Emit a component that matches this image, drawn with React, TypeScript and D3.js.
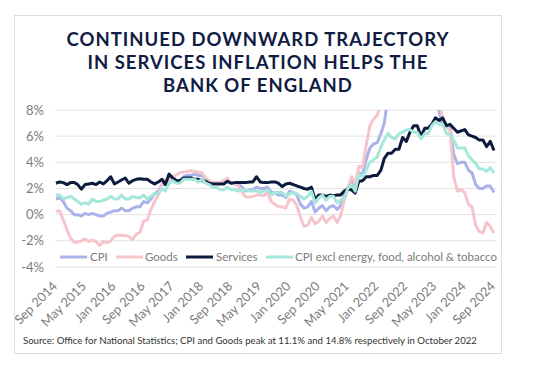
import React from "react";
import * as d3 from "d3";

// ---- Data (annual % change, monthly Sep 2014 .. Sep 2024) ----
const startMonth = "Sep 2014";
const tickLabels = [
  "Sep 2014", "May 2015", "Jan 2016", "Sep 2016", "May 2017", "Jan 2018", "Sep 2018", "May 2019",
  "Jan 2020", "Sep 2020", "May 2021", "Jan 2022", "Sep 2022", "May 2023", "Jan 2024", "Sep 2024",
];
const yTicks = [-4, -2, 0, 2, 4, 6, 8];

const cpi = [
  1.2, 1.3, 1.0, 0.5,
  0.3, 0.0, 0.0, -0.1, 0.1, 0.0, 0.1, 0.0, -0.1, -0.1, 0.1, 0.2,
  0.3, 0.3, 0.5, 0.3, 0.3, 0.5, 0.6, 0.6, 1.0, 0.9, 1.2, 1.6,
  1.8, 2.3, 2.3, 2.7, 2.9, 2.6, 2.6, 2.9, 3.0, 3.0, 3.1, 3.0,
  3.0, 2.7, 2.5, 2.4, 2.4, 2.4, 2.5, 2.7, 2.4, 2.4, 2.3, 2.1,
  1.8, 1.9, 1.9, 2.1, 2.0, 2.0, 2.1, 1.7, 1.7, 1.5, 1.5, 1.3,
  1.8, 1.7, 1.5, 0.8, 0.5, 0.6, 1.0, 0.2, 0.5, 0.7, 0.3, 0.6,
  0.7, 0.4, 0.7, 1.5, 2.1, 2.5, 2.0, 3.2, 3.1, 4.2, 5.1, 5.4,
  5.5, 6.2, 7.0, 9.0, 9.1, 9.4, 10.1, 9.9, 10.1, 11.1, 10.7, 10.5,
  10.1, 10.4, 10.1, 8.7, 8.7, 7.9, 6.8, 6.7, 6.7, 4.6, 3.9, 4.0,
  4.0, 3.4, 3.2, 2.3, 2.0, 2.0, 2.2, 2.2, 1.7,
];

const goods = [
  0.25, 0.3, -0.4, -1.15,
  -1.8, -2.1, -2.1, -2.0, -1.85, -2.05, -1.95, -2.05, -2.35, -2.05, -2.15, -2.0,
  -1.65, -1.55, -1.6, -1.6, -1.65, -1.9, -1.5, -1.35, -0.5, -0.4, 0.4, 1.0,
  1.5, 2.3, 2.65, 2.6, 2.85, 3.05, 3.2, 3.25, 3.3, 3.35, 3.3, 3.25,
  3.2, 2.8, 2.6, 2.45, 2.45, 2.45, 2.6, 2.8, 2.4, 2.35, 2.2, 1.7,
  1.35, 1.35, 1.4, 1.5, 1.5, 1.45, 1.7, 1.0, 0.8, 0.6, 0.6, 0.5,
  1.2, 1.1, 0.7, -0.2, -0.9, -0.8, -0.2, -0.7, -0.5, -0.1, -0.6, -0.3,
  -0.1, -0.6, -0.1, 1.1, 2.0, 2.9, 2.4, 3.7, 3.6, 5.3, 6.8, 7.3,
  7.6, 8.5, 9.7, 12.0, 12.3, 13.0, 14.0, 13.5, 13.8, 14.8, 14.2, 14.0,
  13.5, 13.6, 13.2, 10.8, 10.0, 8.9, 7.3, 6.8, 6.4, 2.9, 1.8, 1.9,
  1.7, 0.8, 0.6, -0.8, -1.3, -1.4, -0.6, -0.9, -1.4,
];

const services = [
  2.4, 2.5, 2.45, 2.3,
  2.45, 2.45, 2.3, 1.95, 2.3, 2.35, 2.4, 2.3, 2.5, 2.35, 2.6, 2.9,
  2.35, 2.5, 2.65, 2.8, 2.4, 2.6, 2.7, 2.75, 2.7, 2.7, 2.5, 2.35,
  2.5, 2.7, 2.3, 3.1, 2.8, 2.6, 2.6, 2.8, 2.8, 2.8, 2.7, 2.7,
  2.6, 2.55, 2.4, 2.35, 2.35, 2.35, 2.35, 2.55, 2.4, 2.45, 2.45, 2.45,
  2.45, 2.5, 2.5, 2.9, 2.5, 2.45, 2.45, 2.5, 2.5, 2.4, 2.15, 2.35,
  2.4, 2.3, 2.2, 2.1, 2.0, 1.95, 2.1, 1.15, 1.5, 1.5, 1.4, 1.5,
  1.45, 1.5, 1.5, 1.8, 1.95, 1.9, 1.65, 2.55, 2.6, 2.9, 2.9, 3.0,
  3.0, 3.4, 4.3, 4.7, 4.7, 5.0, 5.0, 5.9, 5.6, 6.3, 6.8, 6.8,
  6.0, 6.6, 6.6, 6.9, 7.4, 7.2, 7.4, 6.8, 6.9, 6.6, 6.3, 6.4,
  6.5, 6.1, 6.0, 5.9, 5.7, 5.7, 5.2, 5.6, 4.9,
];

const cpiCore = [
  1.5, 1.5, 1.2, 1.3,
  1.4, 1.2, 1.0, 0.8, 0.9, 0.8, 1.2, 1.0, 1.0, 1.1, 1.2, 1.4,
  1.2, 1.2, 1.5, 1.2, 1.2, 1.4, 1.3, 1.3, 1.5, 1.2, 1.4, 1.6,
  1.6, 2.0, 1.8, 2.4, 2.6, 2.4, 2.4, 2.7, 2.7, 2.7, 2.7, 2.5,
  2.7, 2.4, 2.3, 2.1, 2.1, 1.9, 1.9, 2.1, 1.9, 1.9, 1.8, 1.9,
  1.9, 1.8, 1.8, 1.8, 1.7, 1.8, 1.9, 1.5, 1.7, 1.7, 1.7, 1.4,
  1.6, 1.7, 1.6, 1.4, 1.2, 1.4, 1.8, 0.9, 1.3, 1.5, 1.1, 1.4,
  1.4, 0.9, 1.1, 1.3, 2.0, 2.3, 1.8, 3.1, 2.9, 3.4, 4.0, 4.2,
  4.4, 5.2, 5.7, 6.2, 5.9, 5.8, 6.2, 6.3, 6.5, 6.5, 6.3, 6.3,
  5.8, 6.2, 6.2, 6.8, 7.1, 6.9, 6.9, 6.2, 6.1, 5.7, 5.1, 5.1,
  5.1, 4.5, 4.2, 3.9, 3.5, 3.5, 3.3, 3.6, 3.2,
];

const seriesNames = ["CPI", "Goods", "Services", "CPI excl energy, food, alcohol & tobacco"];
const seriesColors = ["#aab2ea", "#f6c5cb", "#0c1a3e", "#a6e7db"];
const titleLines = [
  "CONTINUED DOWNWARD TRAJECTORY",
  "IN SERVICES INFLATION HELPS THE",
  "BANK OF ENGLAND",
];
const sourceText =
  "Source: Office for National Statistics; CPI and Goods peak at 11.1% and 14.8% respectively in October 2022";

export default function App() {
  const W = 534;
  const H = 376;
  const seriesData = [cpi, goods, services, cpiCore];
  const parse = d3.timeParse("%b %Y");
  const start = parse(startMonth) as Date;
  const dates = cpi.map((_, i) => d3.timeMonth.offset(start, i));
  const end = dates[dates.length - 1];

  const x = d3.scaleTime().domain([start, end]).range([56, 494]);
  const y = d3.scaleLinear().domain([-4, 8]).range([267, 110]);
  const gridX0 = 55;
  const gridX1 = 497;

  const line = (vals: number[]) =>
    d3
      .line<number>()
      .x((_, i) => x(dates[i]))
      .y((v) => y(v))
      .curve(d3.curveLinear)(vals) as string;

  const tickDates = tickLabels.map((t) => parse(t) as Date);
  const font = "Lato, 'Open Sans', sans-serif";

  const legendItems = [
    { sx: 60, tx: 90 },
    { sx: 116, tx: 145 },
    { sx: 186, tx: 216 },
    { sx: 266, tx: 295 },
  ];

  return (
    <svg width={W} height={H} style={{ position: "absolute", left: 0, top: 0, background: "#fff" }}>
      <rect x={0} y={0} width={W} height={H} fill="#fff" />
      <rect x={14.5} y={15.5} width={487} height={338} fill="#fff" stroke="#dedede" strokeWidth={1} />
      <defs>
        <clipPath id="plotClip">
          <rect x={gridX0} y={y(8)} width={gridX1 - gridX0} height={y(-4) - y(8) + 2} />
        </clipPath>
      </defs>
      {titleLines.map((t, i) => (
        <text
          key={t}
          x={258}
          y={46 + i * 23}
          textAnchor="middle"
          fontFamily={font}
          fontWeight={700}
          fontSize={18.5}
          letterSpacing={1.0}
          fill="#101c44"
        >
          {t}
        </text>
      ))}
      {yTicks.map((v) => (
        <g key={v}>
          <line x1={gridX0} x2={gridX1} y1={y(v)} y2={y(v)} stroke="#e2e2e2" strokeWidth={1} />
          <text
            x={44}
            y={y(v) + 4.5}
            textAnchor="end"
            fontFamily={font}
            fontSize={13}
            fill="#7c7c7c"
          >
            {`${v}%`}
          </text>
        </g>
      ))}
      <g clipPath="url(#plotClip)">
        {seriesData.map((vals, k) => (
          <path
            key={seriesNames[k]}
            d={line(vals)}
            fill="none"
            stroke={seriesColors[k]}
            strokeWidth={3}
            strokeLinejoin="round"
          />
        ))}
      </g>
      {tickDates.map((d, i) => (
        <text
          key={tickLabels[i]}
          transform={`translate(${x(d) + 2},${287}) rotate(-45)`}
          textAnchor="end"
          fontFamily={font}
          fontSize={12.8}
          fill="#7c7c7c"
        >
          {tickLabels[i]}
        </text>
      ))}
      {seriesNames.map((name, k) => (
        <g key={name}>
          <line
            x1={legendItems[k].sx}
            x2={legendItems[k].sx + 27}
            y1={257}
            y2={257}
            stroke={seriesColors[k]}
            strokeWidth={3}
          />
          <text
            x={legendItems[k].tx}
            y={261}
            fontFamily={font}
            fontSize={11.5}
            fill="#7c7c7c"
          >
            {name}
          </text>
        </g>
      ))}
      <text x={23} y={344} fontFamily={font} fontSize={9.6} fill="#333">
        {sourceText}
      </text>
    </svg>
  );
}
